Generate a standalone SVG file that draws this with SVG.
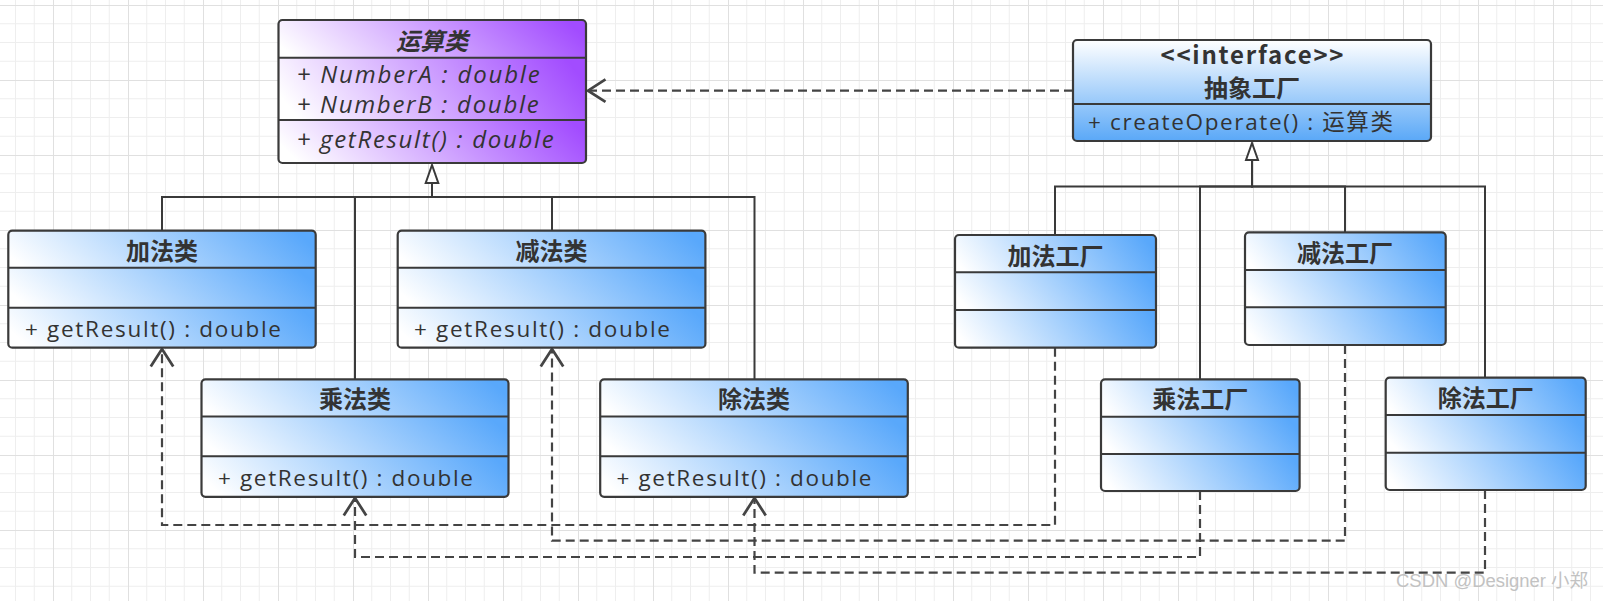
<svg xmlns="http://www.w3.org/2000/svg" width="1603" height="601" viewBox="0 0 1603 601">
<defs>
<pattern id="grid" x="53" y="5" width="75" height="75" patternUnits="userSpaceOnUse">
<path d="M18.75 0V75M37.5 0V75M56.25 0V75M0 18.75H75M0 37.5H75M0 56.25H75" stroke="#eeeeee" stroke-width="1" fill="none"/>
<path d="M0.5 0V75M0 0.5H75" stroke="#e0e0e0" stroke-width="1" fill="none"/>
</pattern>
<linearGradient id="gB" x1="0" y1="0.58" x2="1" y2="0.42"><stop offset="0" stop-color="#ffffff"/><stop offset="1" stop-color="#59a8fb"/></linearGradient>
<linearGradient id="gP" x1="0" y1="0.58" x2="1" y2="0.42"><stop offset="0" stop-color="#ffffff"/><stop offset="1" stop-color="#a24cff"/></linearGradient>
<linearGradient id="gI" x1="0" y1="0" x2="0" y2="1"><stop offset="0" stop-color="#ffffff"/><stop offset="1" stop-color="#5aa8f7"/></linearGradient>
<marker id="open" markerUnits="userSpaceOnUse" markerWidth="30" markerHeight="30" viewBox="-16 -12 20 24" refX="0" refY="0" orient="auto">
<path d="M-14,-9 L0,0 L-14,9" fill="none" stroke="#444" stroke-width="2.2"/>
</marker>
<style>
.box{fill:none;stroke:#3a3a3a;stroke-width:2.2}
.dv{stroke:#3a3a3a;stroke-width:2;fill:none}
.t{font-family:"Open Sans","Noto Sans CJK SC",sans-serif;font-size:22.5px;fill:#333}
.it{font-style:italic;font-size:24px}
.ti{font-family:"Noto Sans CJK SC",sans-serif;font-weight:bold;font-size:24px;text-anchor:middle;fill:#333}
.conn{stroke:#3a3a3a;stroke-width:2;fill:none}
.dash{stroke:#444;stroke-width:2.2;fill:none;stroke-dasharray:9 5}
.tri{fill:#fff;stroke:#3a3a3a;stroke-width:2}
</style>
</defs>
<rect x="0" y="0" width="1603" height="601" fill="#fff"/>
<rect x="0" y="0" width="1603" height="601" fill="url(#grid)"/>

<g id="connectors">
<path class="conn" d="M162 230.7V197H432V183"/>
<path class="conn" d="M355 379.3V197H432V183"/>
<path class="conn" d="M552 230.7V197H432V183"/>
<path class="conn" d="M754.5 379.3V197H432V183"/>
<polygon class="tri" points="432,165 425.7,183 438.3,183"/>
<path class="conn" d="M1055 235V186.5H1252V160"/>
<path class="conn" d="M1200 379.3V186.5H1252V160"/>
<path class="conn" d="M1345 232.3V186.5H1252V160"/>
<path class="conn" d="M1485 377.7V186.5H1252V160"/>
<polygon class="tri" points="1252,143 1246,160 1258,160"/>
<path class="dash" d="M1073 90.7H588" marker-end="url(#open)"/>
<path class="dash" d="M1055 347.7V525H162V349" marker-end="url(#open)"/>
<path class="dash" d="M1345 345V540.7H552V349" marker-end="url(#open)"/>
<path class="dash" d="M1200 491V557H355V498" marker-end="url(#open)"/>
<path class="dash" d="M1485 490V572.7H754.5V498" marker-end="url(#open)"/>
</g>

<g id="op">
<rect x="278.5" y="20" width="307.5" height="42.7" rx="4" fill="url(#gP)"/>
<rect x="278.5" y="115" width="307.5" height="48" rx="4" fill="url(#gP)"/>
<rect x="278.5" y="57.7" width="307.5" height="62.3" fill="url(#gP)"/>
<rect class="box" x="278.5" y="20" width="307.5" height="143" rx="4"/>
<path class="dv" d="M278.5 57.7H586M278.5 120H586"/>
<text class="ti" x="432" y="49.5" font-style="italic">运算类</text>
<text class="t it" x="296.7" y="82.7" textLength="243" lengthAdjust="spacing">+ NumberA : double</text>
<text class="t it" x="296.7" y="113.3" textLength="242" lengthAdjust="spacing">+ NumberB : double</text>
<text class="t it" x="296.7" y="148.3" textLength="257" lengthAdjust="spacing">+ getResult() : double</text>
</g>

<g id="add">
<rect x="8.3" y="230.7" width="307.4" height="42" rx="4" fill="url(#gB)"/>
<rect x="8.3" y="302.7" width="307.4" height="45" rx="4" fill="url(#gB)"/>
<rect x="8.3" y="267.7" width="307.4" height="40" fill="url(#gB)"/>
<rect class="box" x="8.3" y="230.7" width="307.4" height="117" rx="4"/>
<path class="dv" d="M8.3 267.7H315.7M8.3 307.7H315.7"/>
<text class="ti" x="162" y="259.5">加法类</text>
<text class="t" x="25" y="336.5" textLength="256" lengthAdjust="spacing">+ getResult() : double</text>
</g>

<g id="sub">
<rect x="397.7" y="230.7" width="307.7" height="42" rx="4" fill="url(#gB)"/>
<rect x="397.7" y="302.7" width="307.7" height="45" rx="4" fill="url(#gB)"/>
<rect x="397.7" y="267.7" width="307.7" height="40" fill="url(#gB)"/>
<rect class="box" x="397.7" y="230.7" width="307.7" height="117" rx="4"/>
<path class="dv" d="M397.7 267.7H705.4M397.7 307.7H705.4"/>
<text class="ti" x="551.5" y="259.5">减法类</text>
<text class="t" x="414" y="336.5" textLength="256" lengthAdjust="spacing">+ getResult() : double</text>
</g>

<g id="mul">
<rect x="201.5" y="379.3" width="307" height="42" rx="4" fill="url(#gB)"/>
<rect x="201.5" y="451.3" width="307" height="45.5" rx="4" fill="url(#gB)"/>
<rect x="201.5" y="416.5" width="307" height="39.8" fill="url(#gB)"/>
<rect class="box" x="201.5" y="379.3" width="307" height="117.5" rx="4"/>
<path class="dv" d="M201.5 416.5H508.5M201.5 456.3H508.5"/>
<text class="ti" x="355" y="408.3">乘法类</text>
<text class="t" x="218" y="486.3" textLength="255" lengthAdjust="spacing">+ getResult() : double</text>
</g>

<g id="div">
<rect x="600.2" y="379.3" width="307.6" height="42" rx="4" fill="url(#gB)"/>
<rect x="600.2" y="451.3" width="307.6" height="45.5" rx="4" fill="url(#gB)"/>
<rect x="600.2" y="416.5" width="307.6" height="39.8" fill="url(#gB)"/>
<rect class="box" x="600.2" y="379.3" width="307.6" height="117.5" rx="4"/>
<path class="dv" d="M600.2 416.5H907.8M600.2 456.3H907.8"/>
<text class="ti" x="754" y="408.3">除法类</text>
<text class="t" x="616.5" y="486.3" textLength="255" lengthAdjust="spacing">+ getResult() : double</text>
</g>

<g id="iface">
<rect x="1073" y="40" width="358" height="101" rx="4" fill="url(#gI)"/>
<rect class="box" x="1073" y="40" width="358" height="101" rx="4"/>
<path class="dv" d="M1073 104H1431"/>
<text class="ti" x="1252" y="64" font-family="'Liberation Sans',sans-serif" font-size="20" textLength="183" lengthAdjust="spacing">&lt;&lt;interface&gt;&gt;</text>
<text class="ti" x="1252" y="96.5" font-size="23">抽象工厂</text>
<text class="t" x="1088" y="130" font-size="22" textLength="305" lengthAdjust="spacing">+ createOperate() : 运算类</text>
</g>

<g id="addF">
<rect x="955" y="235" width="201" height="42" rx="4" fill="url(#gB)"/>
<rect x="955" y="305" width="201" height="42.7" rx="4" fill="url(#gB)"/>
<rect x="955" y="272.3" width="201" height="37.7" fill="url(#gB)"/>
<rect class="box" x="955" y="235" width="201" height="112.7" rx="4"/>
<path class="dv" d="M955 272.3H1156M955 310H1156"/>
<text class="ti" x="1055.5" y="264.5">加法工厂</text>
</g>

<g id="subF">
<rect x="1245" y="232.3" width="200.7" height="42" rx="4" fill="url(#gB)"/>
<rect x="1245" y="302.3" width="200.7" height="42.7" rx="4" fill="url(#gB)"/>
<rect x="1245" y="270" width="200.7" height="37.3" fill="url(#gB)"/>
<rect class="box" x="1245" y="232.3" width="200.7" height="112.7" rx="4"/>
<path class="dv" d="M1245 270H1445.7M1245 307.3H1445.7"/>
<text class="ti" x="1345" y="262">减法工厂</text>
</g>

<g id="mulF">
<rect x="1101" y="379.3" width="198.6" height="42" rx="4" fill="url(#gB)"/>
<rect x="1101" y="449" width="198.6" height="42" rx="4" fill="url(#gB)"/>
<rect x="1101" y="416.7" width="198.6" height="37.3" fill="url(#gB)"/>
<rect class="box" x="1101" y="379.3" width="198.6" height="111.7" rx="4"/>
<path class="dv" d="M1101 416.7H1299.6M1101 454H1299.6"/>
<text class="ti" x="1200.3" y="408.3">乘法工厂</text>
</g>

<g id="divF">
<rect x="1385.7" y="377.7" width="200" height="42" rx="4" fill="url(#gB)"/>
<rect x="1385.7" y="447.7" width="200" height="42.3" rx="4" fill="url(#gB)"/>
<rect x="1385.7" y="415" width="200" height="37.7" fill="url(#gB)"/>
<rect class="box" x="1385.7" y="377.7" width="200" height="112.3" rx="4"/>
<path class="dv" d="M1385.7 415H1585.7M1385.7 452.7H1585.7"/>
<text class="ti" x="1485.7" y="407">除法工厂</text>
</g>

<text x="1396" y="586.5" font-family="'Liberation Sans','Noto Sans CJK SC',sans-serif" font-size="18" fill="#c2c2c2" textLength="192" lengthAdjust="spacingAndGlyphs">CSDN @Designer 小郑</text>
</svg>
